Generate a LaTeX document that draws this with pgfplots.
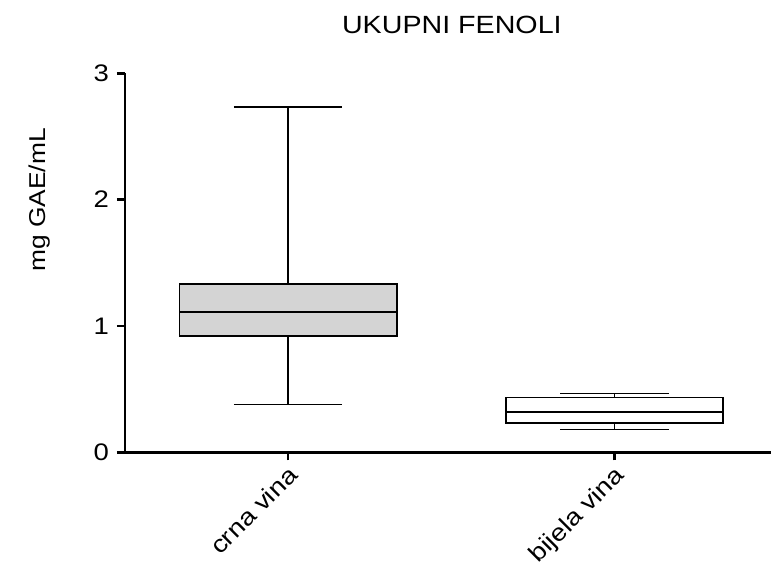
\documentclass[border=0pt]{standalone}
\usepackage{fontspec}
\setmainfont[FakeStretch=1.15]{Liberation Sans}
\usepackage{pgfplots}
\pgfplotsset{compat=1.18}
\usepgfplotslibrary{statistics}
\definecolor{boxgray}{HTML}{D4D4D4}
\begin{document}
\begin{tikzpicture}
\fontsize{23}{27}\selectfont
\path[use as bounding box] (-125bp,-110.7bp) rectangle (646bp,452.3bp);
\begin{axis}[
  at={(0,0)}, anchor=south west,
  scale only axis,
  width=646bp, height=379bp,
  xmin=-0.5, xmax=1.48,
  ymin=0, ymax=3,
  axis x line*=bottom,
  axis y line*=left,
  axis line style={line width=2.6bp, black},
  xtick={0,1},
  xticklabels={crna vina, bijela vina},
  ytick={0,1,2,3},
  tick align=outside,
  major tick length=8bp,
  tick style={line width=2.6bp, black},
  /pgf/number format/assume math mode=true,
  xticklabel style={rotate=45, anchor=north east, inner sep=2bp, xshift=-2bp, font=\fontsize{24}{28}\selectfont},
  yticklabel style={font=\fontsize{24}{28}\selectfont, inner sep=8bp},
  ylabel={mg GAE/mL},
  ylabel style={at={(rel axis cs:-0.1316,0.666)}, anchor=center, font=\fontsize{23}{27}\selectfont},
  boxplot/draw direction=y,
  clip=false,
]
\addplot+[no marks, draw=black, fill=boxgray, line width=1.6bp,
  boxplot prepared={median=1.11, upper quartile=1.33, lower quartile=0.919,
    upper whisker=2.731, lower whisker=0.378, draw position=0,
    box extend=0.666, whisker extend=0.333}]
  coordinates {};
\addplot+[no marks, draw=black, fill=white, line width=1.6bp,
  boxplot prepared={median=0.317, upper quartile=0.435, lower quartile=0.234,
    upper whisker=0.464, lower whisker=0.182, draw position=1,
    box extend=0.666, whisker extend=0.333}]
  coordinates {};
\node[font=\fontsize{25}{29}\selectfont] at (rel axis cs:0.506,1.127) {UKUPNI FENOLI};
\end{axis}
\end{tikzpicture}
\end{document}
